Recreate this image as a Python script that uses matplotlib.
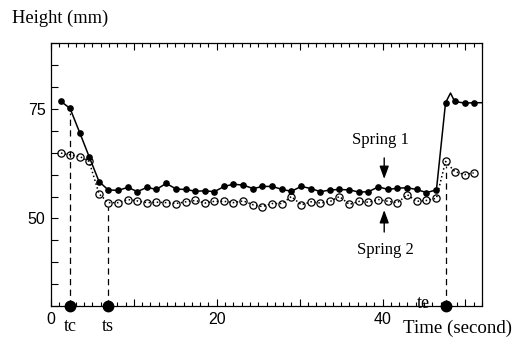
import matplotlib
matplotlib.use("Agg")
import matplotlib.pyplot as plt
import numpy as np

# Spring 1 (filled dots, solid line)
time1 = [1.2, 2.3, 3.5, 4.6, 5.8, 6.9, 8.1, 9.3, 10.4, 11.6, 12.7, 13.9, 15.1, 16.3,
         17.4, 18.6, 19.7, 20.9, 22.0, 23.2, 24.4, 25.5, 26.7, 27.9, 29.0, 30.2,
         31.4, 32.5, 33.7, 34.8, 36.0, 37.2, 38.3, 39.5, 40.7, 41.8, 43.0, 44.1,
         45.3, 46.5, 47.6, 48.2, 48.7, 49.9, 51.0, 52.2]
height1 = [76.7, 75.1, 69.4, 64.1, 58.4, 56.5, 56.4, 57.1, 56.1, 57.1, 56.6, 58.0, 56.7, 56.6,
           56.2, 56.3, 56.1, 57.3, 57.8, 57.6, 56.8, 57.3, 57.3, 56.6, 56.2, 57.3,
           56.8, 56.1, 56.5, 56.6, 56.5, 56.0, 56.1, 57.2, 56.6, 56.9, 57.0, 56.6,
           55.9, 56.5, 76.4, 78.6, 76.7, 76.3, 76.4, 76.4]
# overshoot (48.2) and the last sample (outside the axis) have no marker
marks1 = [i for i in range(len(time1)) if i not in (41, 45)]

# Spring 2 (open circles, dotted line)
time2 = [1.2, 2.3, 3.5, 4.6, 5.8, 6.9, 8.1, 9.3, 10.4, 11.6, 12.7, 13.9, 15.1, 16.3,
         17.4, 18.6, 19.7, 20.9, 22.0, 23.2, 24.4, 25.5, 26.7, 27.9, 29.0, 30.2,
         31.4, 32.5, 33.7, 34.8, 36.0, 37.2, 38.3, 39.5, 40.7, 41.8, 43.0, 44.1,
         45.3, 46.5, 47.6, 48.7, 49.9, 51.0]
height2 = [64.9, 64.5, 64.1, 63.0, 55.6, 53.6, 53.6, 54.3, 54.0, 53.6, 53.7, 53.6, 53.4, 53.8,
           54.1, 53.5, 53.9, 53.9, 53.6, 54.0, 53.1, 52.7, 53.4, 53.4, 55.0, 53.1,
           53.8, 53.5, 53.9, 55.0, 53.2, 53.9, 53.7, 54.3, 53.9, 53.6, 55.4, 53.9,
           54.1, 54.6, 63.0, 60.7, 60.0, 60.4]

# event times
t_c, t_s, t_e = 2.3, 6.9, 47.6
event_levels = [75.1, 53.6, 63.0]

serif = "Liberation Serif"
sans = "Liberation Sans"

fig = plt.figure(figsize=(5.13, 3.42), dpi=100)
ax = fig.add_axes([0.0994, 0.105, 0.8402, 0.769])

ax.plot(time1, height1, "-", color="black", lw=1.1, marker="o", ms=3.8,
        markevery=marks1, mfc="black", mec="black")
ax.plot(time2, height2, ":", color="black", lw=1.1, marker="o", ms=5.2,
        mfc="none", mec="black", mew=0.9)

# dashed markers of tc, ts, te
for t, lvl in zip([t_c, t_s, t_e], event_levels):
    ax.plot([t, t], [30, lvl - 1.0], "--", color="black", lw=0.9, dashes=(5, 3.5))
    ax.plot(t, 30, "o", color="black", ms=7.5, clip_on=False, zorder=5)

ax.set_xlim(0, 52)
ax.set_ylim(30, 90)
ax.set_xticks([0, 10, 20, 30, 40, 50])
ax.set_xticklabels(["0", "", "20", "", "40", ""])
ax.set_xticks(np.arange(0, 53, 1), minor=True)
ax.set_yticks([50, 75])
ax.set_yticks(np.arange(30, 91, 5), minor=True)
ax.tick_params(which="both", direction="in", top=True, right=False,
               width=0.8, labelsize=11.5)
ax.tick_params(which="major", length=5, pad=4)
ax.tick_params(which="minor", length=3)
ax.tick_params(axis="y", which="minor", length=5)
for lab in ax.get_xticklabels() + ax.get_yticklabels():
    lab.set_family(sans)
for s in ax.spines.values():
    s.set_linewidth(0.9)

fig.text(0.023, 0.945, "Height (mm)", fontsize=13.3, family=serif, va="center")
fig.text(0.785, 0.041, "Time (second)", fontsize=13.6, family=serif, va="center")
ax.text(t_c, 27.2, "tc", fontsize=13, family=serif, ha="center", va="top")
ax.text(t_s, 27.2, "ts", fontsize=13, family=serif, ha="center", va="top")
ax.text(44.9, 30.6, "te", fontsize=13, family=serif, ha="center", va="center")

ax.text(39.8, 67.8, "Spring 1", fontsize=12, family=serif, ha="center", va="center")
ax.text(40.4, 42.7, "Spring 2", fontsize=12, family=serif, ha="center", va="center")
arrow = dict(arrowstyle="-|>,head_width=0.2,head_length=0.55", color="black",
             lw=1.0, mutation_scale=14, shrinkA=0, shrinkB=0)
ax.annotate("", xy=(40.2, 59.0), xytext=(40.2, 63.8), arrowprops=arrow)
ax.annotate("", xy=(40.2, 51.9), xytext=(40.2, 46.9), arrowprops=arrow)

fig.savefig("out.png", dpi=100)
